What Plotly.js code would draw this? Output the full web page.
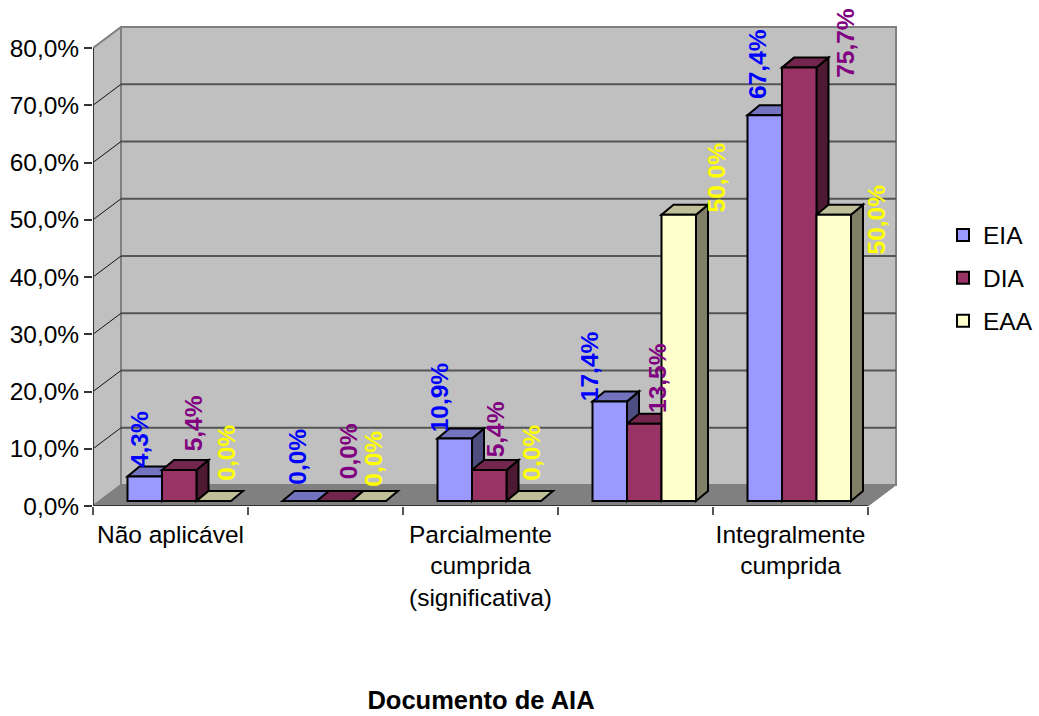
<!DOCTYPE html>
<html>
<head>
<meta charset="utf-8">
<script src="https://cdn.plot.ly/plotly-3.0.1.min.js"></script>
<style>html,body{margin:0;padding:0;background:#fff}</style>
</head>
<body>
<div id="chart" style="width:1039px;height:716px"></div>
<script>
// Compliance per AIA document, one group of three bars per category
const categories = ["Não aplicável", "", "Parcialmente<br>cumprida<br>(significativa)", "", "Integralmente<br>cumprida"];
const seriesNames = ["EIA", "DIA", "EAA"];
const eia = [4.3, 0, 10.9, 17.4, 67.4];
const dia = [5.4, 0, 5.4, 13.5, 75.7];
const eaa = [0, 0, 0, 50, 50];
const valueTicks = [0, 10, 20, 30, 40, 50, 60, 70, 80];
const chartTitle = "Documento de AIA";

// Pixel-to-data scale of the plot area
const PX_X = 155, PX_Y = 5.725;
const PLOT_W = 804, PLOT_H = 480;
const WALL_DX = 28 / PX_X, WALL_DY = 21 / PX_Y;
const BAR_DX = 12 / PX_X, BAR_DY = 10 / PX_Y;
const BAR_W = 34.5 / PX_X, BAR_START = 34.5 / PX_X, BAR_LIFT = 5 / PX_Y;
const N = categories.length, TOP = valueTicks[valueTicks.length - 1];

const styles = [
  {front: "#9999FF", top: "#7373BF", side: "#4D4D80", text: "#0000FF"},
  {front: "#993366", top: "#73264D", side: "#4D1933", text: "#800080"},
  {front: "#FFFFCC", top: "#BFBF99", side: "#808066", text: "#FFFF00"}
];
// Label placement around each bar top, in screen pixels
const labelShiftX = [[-5, -3, -15, -20, -8], [14, 14, 6, 13, 46], [12, 4, 7, 38, 43]];
const labelShiftY = [[37, 44, 41, 35, 51], [47, 50, 41, 46, 25], [48, 42, 48, 37, -5]];

const values = [eia, dia, eaa];
const FONT = "Liberation Sans, Arial, sans-serif";

function poly(points, fill, color, width) {
  const path = points.map((p, i) => (i ? "L" : "M") + p[0] + "," + p[1]).join(" ") + " Z";
  return {type: "path", xref: "x", yref: "y", layer: "below", path: path,
          fillcolor: fill, line: {color: color, width: width}};
}
function segment(a, b, color, width) {
  return {type: "line", xref: "x", yref: "y", layer: "below",
          x0: a[0], y0: a[1], x1: b[0], y1: b[1], line: {color: color, width: width}};
}

const shapes = [];
// Back wall, side wall and floor of the box
shapes.push(poly([[WALL_DX, WALL_DY], [N + WALL_DX, WALL_DY], [N + WALL_DX, TOP + WALL_DY], [WALL_DX, TOP + WALL_DY]], "#C0C0C0", "#808080", 2));
shapes.push(poly([[0, 0], [WALL_DX, WALL_DY], [WALL_DX, TOP + WALL_DY], [0, TOP]], "#C0C0C0", "#808080", 2));
shapes.push(poly([[0, 0], [N, 0], [N + WALL_DX, WALL_DY], [WALL_DX, WALL_DY]], "#808080", "#808080", 1));
valueTicks.slice(1, -1).forEach(v => {
  shapes.push(segment([WALL_DX, v + WALL_DY], [N + WALL_DX, v + WALL_DY], "#555555", 2));
  shapes.push(segment([0, v], [WALL_DX, v + WALL_DY], "#111111", 1));
});
shapes.push(segment([0, 0], [0, TOP], "#333333", 2));
shapes.push(segment([0, 0], [N, 0], "#333333", 2));

// Depth faces of the bars; the fronts are the bar traces drawn over them
for (let c = 0; c < N; c++) {
  values.forEach((vals, s) => {
    const x0 = c + BAR_START + s * BAR_W, x1 = x0 + BAR_W;
    const y0 = BAR_LIFT, y1 = BAR_LIFT + vals[c];
    if (vals[c] > 0) {
      shapes.push(poly([[x1, y0], [x1 + BAR_DX, y0 + BAR_DY], [x1 + BAR_DX, y1 + BAR_DY], [x1, y1]], styles[s].side, "#000", 2));
    }
    shapes.push(poly([[x0, y1], [x1, y1], [x1 + BAR_DX, y1 + BAR_DY], [x0 + BAR_DX, y1 + BAR_DY]], styles[s].top, "#000", 2));
  });
}

const centers = categories.map((_, i) => i + 0.5);
const traces = values.map((vals, s) => ({
  type: "bar",
  name: seriesNames[s],
  legendgroup: seriesNames[s],
  x: centers,
  y: vals,
  base: BAR_LIFT,
  width: BAR_W,
  offset: BAR_START - 0.5 + s * BAR_W,
  marker: {color: styles[s].front, line: {color: "#000", width: 2}},
  hoverinfo: "skip"
}));

const annotations = [];
values.forEach((vals, s) => vals.forEach((v, c) => {
  annotations.push({
    x: c + BAR_START + (s + 0.5) * BAR_W,
    y: BAR_LIFT + v,
    xref: "x", yref: "y",
    text: "<b>" + v.toFixed(1).replace(".", ",") + "%</b>",
    textangle: -90,
    showarrow: false,
    xanchor: "center", yanchor: "middle",
    xshift: labelShiftX[s][c], yshift: labelShiftY[s][c],
    font: {family: FONT, size: 24.5, color: styles[s].text}
  });
}));

const layout = {
  width: 1039, height: 716,
  margin: {l: 93, r: 142, t: 26, b: 210, pad: 0, autoexpand: false},
  paper_bgcolor: "#fff", plot_bgcolor: "#fff",
  separators: ", ",
  barmode: "overlay",
  font: {family: FONT, size: 24.5, color: "#000"},
  title: {text: "<b>" + chartTitle + "</b>", x: 481 / 1039, xanchor: "center", xref: "container",
          y: 1 - 700 / 716, yanchor: "middle", yref: "container", font: {family: FONT, size: 25.5, color: "#000"}},
  xaxis: {
    range: [0, PLOT_W / PX_X], fixedrange: true, showgrid: false, zeroline: false, showline: false,
    tickmode: "array", tickvals: centers, ticktext: categories, ticks: "", tickangle: 0,
    ticklabelstandoff: 11,
    minor: {tickmode: "array", tickvals: categories.map((_, i) => i).concat([N]), ticks: "outside",
            ticklen: 8, tickwidth: 2, tickcolor: "#555555", showgrid: false}
  },
  yaxis: {
    range: [0, PLOT_H / PX_Y], fixedrange: true, showgrid: false, zeroline: false, showline: false,
    tickmode: "linear", tick0: valueTicks[0], dtick: valueTicks[1] - valueTicks[0], tickformat: ".1f", ticksuffix: "%",
    ticks: "outside", ticklen: 8, tickwidth: 2, tickcolor: "#333333"
  },
  legend: {x: 943 / 1039, xref: "container", xanchor: "left", y: 1 - 278 / 716, yref: "container", yanchor: "middle",
           bgcolor: "rgba(0,0,0,0)", traceorder: "normal+grouped", tracegroupgap: 8,
           font: {family: FONT, size: 24.5, color: "#000"}},
  shapes: shapes,
  annotations: annotations
};

Plotly.newPlot("chart", traces, layout, {displayModeBar: false, staticPlot: true});
</script>
</body>
</html>
